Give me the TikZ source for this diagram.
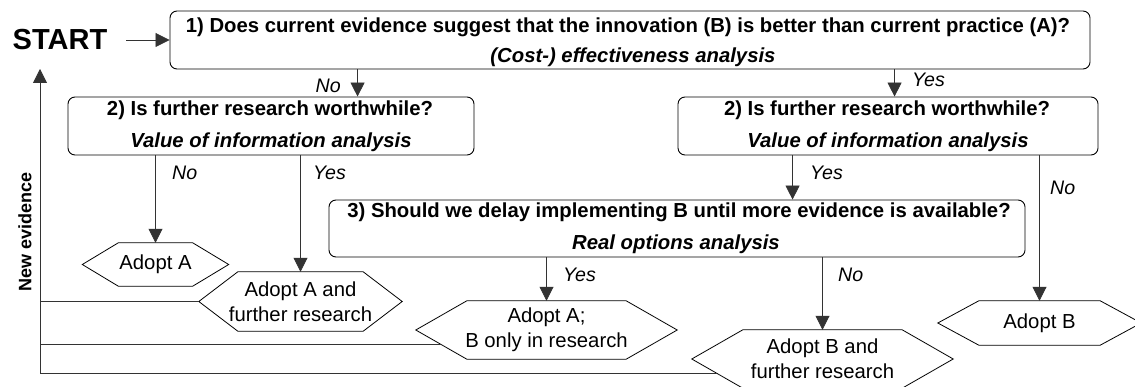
\documentclass[tikz,border=0pt]{standalone}
\usepackage{fontspec}
\setmainfont{Liberation Sans}
\usetikzlibrary{arrows.meta,calc}

% hexagonal outcome box drawn around a named rectangular node; #2 = inset of the side points
\newcommand\drawhex[2]{%
  \coordinate (#1-sw) at ([xshift=#2pt]#1.south west);
  \draw[hexline] (#1.west) -- ([xshift=#2pt]#1.north west) -- ([xshift=-#2pt]#1.north east)
    -- (#1.east) -- ([xshift=-#2pt]#1.south east) -- (#1-sw) -- cycle;}

\begin{document}
\begin{tikzpicture}[x=1pt,y=-1pt,
  qbox/.style={draw, rounded corners=7pt, line width=0.9pt, inner sep=0pt},
  hexline/.style={line width=0.8pt},
  flow/.style={-{Triangle[width=14pt,length=14pt]}, line width=0.8pt, draw=black!80},
  fb/.style={line width=0.8pt, draw=black!80},
  lbl/.style={font=\fontsize{19.6}{22}\selectfont\itshape, inner sep=0pt},
  qtxt/.style={font=\fontsize{20.3}{22}\selectfont\bfseries, inner sep=0pt},
  atxt/.style={font=\fontsize{20.3}{22}\selectfont\bfseries\itshape, inner sep=0pt},
  hex/.style={inner sep=0pt, align=center, font=\fontsize{20.3}{25}\selectfont},
]
\useasboundingbox (0,0) rectangle (1135,387);
\fill[white] (0,0) rectangle (1135,387);

% start label
\node[font=\fontsize{29}{30}\selectfont\bfseries, inner sep=0pt] (start) at (60,40) {START};

% question boxes
\node[qbox, minimum width=920pt, minimum height=58pt] (q1) at (630,40) {};
\node[qtxt] (q1a) at (628,27) {1) Does current evidence suggest that the innovation (B) is better than current practice (A)?};
\node[atxt] (q1b) at (633,57) {(Cost-) effectiveness analysis};

\node[qbox, minimum width=406pt, minimum height=58pt] (q2l) at (271,126) {};
\node[qtxt] (q2la) at (270,110) {2) Is further research worthwhile?};
\node[atxt] (q2lb) at (271,142) {Value of information analysis};

\node[qbox, minimum width=420pt, minimum height=58pt] (q2r) at (888,126) {};
\node[qtxt] (q2ra) at (887,110) {2) Is further research worthwhile?};
\node[atxt] (q2rb) at (888,142) {Value of information analysis};

\node[qbox, minimum width=696pt, minimum height=57pt] (q3) at (677,228.5) {};
\node[qtxt] (q3a) at (679,212) {3) Should we delay implementing B until more evidence is available?};
\node[atxt] (q3b) at (676,244) {Real options analysis};

% outcome hexagons
\node[hex, minimum width=146pt, minimum height=43pt] (aa) at (155.5,264.5) {Adopt A};
\drawhex{aa}{36}
\node[hex, minimum width=203pt, minimum height=59pt] (aafr) at (300.5,301.5) {Adopt A and\\further research};
\drawhex{aafr}{39}
\node[hex, minimum width=261pt, minimum height=58pt] (abor) at (546.5,330) {Adopt A;\\B only in research};
\drawhex{abor}{51}
\node[hex, minimum width=261pt, minimum height=58pt] (abfr) at (822.5,359) {Adopt B and\\further research};
\drawhex{abfr}{51}
\node[hex, minimum width=203pt, minimum height=44pt] (ab) at (1039.5,323) {Adopt B};
\drawhex{ab}{41}

% branch points on the question boxes
\coordinate (q1no) at ([xshift=188pt]q1.south west);
\coordinate (q1yes) at ([xshift=725pt]q1.south west);
\coordinate (q2ryes) at ([xshift=115pt]q2r.south west);

% flow arrows
\draw[flow] (start.east) ++(19,0) -- (q1.west);
\draw[flow] (q1no) -- (q1no |- q2l.north);
\draw[flow] (q1yes) -- (q1yes |- q2r.north);
\draw[flow] (aa.north |- q2l.south) -- (aa.north);
\draw[flow] (aafr.north |- q2l.south) -- (aafr.north);
\draw[flow] (q2ryes) -- (q2ryes |- q3.north);
\draw[flow] (ab.north |- q2r.south) -- (ab.north);
\draw[flow] (abor.north |- q3.south) -- (abor.north);
\draw[flow] (abfr.north |- q3.south) -- (abfr.north);

% branch labels
\node[lbl, anchor=east] (l1) at (341,86) {No};
\node[lbl, anchor=west] (l2) at (912,80) {Yes};
\node[lbl, anchor=west] (l3) at (172,173) {No};
\node[lbl, anchor=west] (l4) at (313,173) {Yes};
\node[lbl, anchor=west] (l5) at (810,173) {Yes};
\node[lbl, anchor=west] (l6) at (1050,188) {No};
\node[lbl, anchor=west] (l7) at (563,275) {Yes};
\node[lbl, anchor=west] (l8) at (838,275) {No};

% feedback loop of new evidence
\coordinate (fbtop) at (40,69);
\coordinate (fbabor) at ($(abor.west)!0.5!(abor-sw)$);
\coordinate (fbabfr) at ($(abfr.west)!0.5!(abfr-sw)$);
\draw[fb] (aafr.west) -- (aafr.west -| fbtop);
\draw[fb] (fbabor) -- (fbabor -| fbtop);
\draw[flow] (fbabfr) -| (fbtop);
\node[font=\fontsize{18}{20}\selectfont\bfseries, inner sep=0pt, rotate=90] (newev) at (25,232) {New evidence};
\end{tikzpicture}
\end{document}
